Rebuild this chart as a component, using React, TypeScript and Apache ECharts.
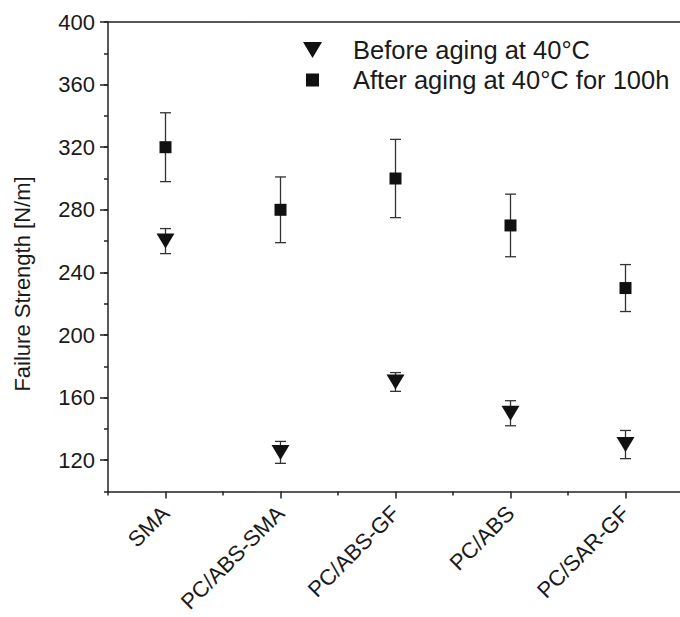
import React, { useEffect, useRef } from "react";
import * as echarts from "echarts";

const categories = ["SMA", "PC/ABS-SMA", "PC/ABS-GF", "PC/ABS", "PC/SAR-GF"];
const beforeValues = [260, 125, 170, 150, 130];
const beforeErrors = [8, 7, 6, 8, 9];
const afterValues = [320, 280, 300, 270, 230];
const afterErrors = [22, 21, 25, 20, 15];
const yLabelValues = [120, 160, 200, 240, 280, 320, 360, 400];
const beforeName = "Before aging at 40°C";
const afterName = "After aging at 40°C for 100h";

const FONT = "'Liberation Sans', Arial, Helvetica, sans-serif";
const INK = "#1a1a1a";

export default function App() {
  const ref = useRef<HTMLDivElement>(null);
  useEffect(() => {
    if (!ref.current) return;
    const chart = echarts.init(ref.current, null, { renderer: "svg" });

    const errData = (vals: number[], errs: number[]) =>
      vals.map((v, i) => [i, v - errs[i], v + errs[i]]);

    const renderErr = (params: any, api: any) => {
      const x = api.value(0);
      const lo = api.value(1);
      const hi = api.value(2);
      const p1 = api.coord([x, hi]);
      const p2 = api.coord([x, lo]);
      const w = 5.5;
      const style = { stroke: "#333", lineWidth: 1.3 };
      return {
        type: "group",
        children: [
          { type: "line", shape: { x1: p1[0], y1: p1[1], x2: p2[0], y2: p2[1] }, style },
          { type: "line", shape: { x1: p1[0] - w, y1: p1[1], x2: p1[0] + w, y2: p1[1] }, style },
          { type: "line", shape: { x1: p2[0] - w, y1: p2[1], x2: p2[0] + w, y2: p2[1] }, style },
        ],
      };
    };

    const triPath = "path://M0,0L18,0L9,15Z";

    chart.setOption({
      animation: false,
      backgroundColor: "#fff",
      textStyle: { fontFamily: FONT },
      grid: { left: 108, right: -3, top: 22, bottom: 125.5, containLabel: false, outerBoundsMode: "none" },
      legend: [
        {
          data: [{ name: beforeName, icon: triPath }],
          orient: "vertical",
          left: 303,
          top: 37,
          padding: 0,
          itemWidth: 19,
          itemHeight: 17,
          selectedMode: false,
          textStyle: { fontSize: 25.5, color: INK, fontFamily: FONT, lineHeight: 26, padding: [0, 0, 0, 26] },
        },
        {
          data: [{ name: afterName, icon: "rect" }],
          orient: "vertical",
          left: 306,
          top: 67,
          padding: 0,
          itemWidth: 13,
          itemHeight: 13,
          selectedMode: false,
          textStyle: { fontSize: 25.5, color: INK, fontFamily: FONT, lineHeight: 26, padding: [0, 0, 0, 29] },
        },
      ],
      xAxis: [
        {
          type: "category",
          data: categories,
          position: "bottom",
          boundaryGap: true,
          axisLine: { show: true, lineStyle: { color: "#222", width: 1.5 } },
          axisTick: { show: true, alignWithLabel: true, length: 7, lineStyle: { color: "#222", width: 1.5 } },
          axisLabel: { rotate: 45, margin: 18, fontSize: 22, color: INK, fontFamily: FONT, interval: 0 },
          splitLine: { show: false },
        },
        {
          type: "value",
          position: "bottom",
          min: 0,
          max: 5,
          interval: 1,
          axisLine: { show: false },
          axisTick: { show: true, length: 4, lineStyle: { color: "#222", width: 1.5 } },
          axisLabel: { show: false },
          splitLine: { show: false },
        },
        {
          type: "value",
          position: "top",
          min: 0,
          max: 1,
          axisLine: { show: true, onZero: false, lineStyle: { color: "#222", width: 1.5 } },
          axisTick: { show: false },
          axisLabel: { show: false },
          splitLine: { show: false },
        },
      ],
      yAxis: [
        {
          type: "value",
          position: "left",
          min: 100,
          max: 400,
          axisLine: { show: true, onZero: false, lineStyle: { color: "#222", width: 1.5 } },
          axisTick: {
            show: true,
            length: 8,
            customValues: yLabelValues,
            lineStyle: { color: "#222", width: 1.5 },
          },
          axisLabel: { customValues: yLabelValues, margin: 13, fontSize: 22, color: INK, fontFamily: FONT },
          splitLine: { show: false },
        },
        {
          type: "value",
          position: "left",
          min: 100,
          max: 400,
          interval: 20,
          axisLine: { show: false },
          axisTick: { show: true, length: 4, lineStyle: { color: "#222", width: 1.5 } },
          axisLabel: { show: false },
          splitLine: { show: false },
        },
      ],
      graphic: [
        {
          type: "text",
          x: 22,
          y: 284,
          rotation: Math.PI / 2,
          style: {
            text: "Failure Strength [N/m]",
            fontSize: 22,
            fontFamily: FONT,
            fill: INK,
            textAlign: "center",
            textVerticalAlign: "middle",
          },
        },
      ],
      series: [
        {
          name: "err-before",
          type: "custom",
          xAxisIndex: 0,
          yAxisIndex: 0,
          renderItem: renderErr,
          encode: { x: 0, y: [1, 2] },
          data: errData(beforeValues, beforeErrors),
          z: 2,
          silent: true,
        },
        {
          name: "err-after",
          type: "custom",
          xAxisIndex: 0,
          yAxisIndex: 0,
          renderItem: renderErr,
          encode: { x: 0, y: [1, 2] },
          data: errData(afterValues, afterErrors),
          z: 2,
          silent: true,
        },
        {
          name: beforeName,
          type: "scatter",
          xAxisIndex: 0,
          yAxisIndex: 0,
          symbol: triPath,
          symbolSize: [18, 15],
          itemStyle: { color: "#111", opacity: 1 },
          data: beforeValues,
          z: 4,
        },
        {
          name: afterName,
          type: "scatter",
          xAxisIndex: 0,
          yAxisIndex: 0,
          symbol: "rect",
          symbolSize: 12,
          itemStyle: { color: "#111", opacity: 1 },
          data: afterValues,
          z: 4,
        },
      ],
    });
    return () => chart.dispose();
  }, []);

  return (
    <div style={{ position: "fixed", left: 0, top: 0, width: 680, height: 617, overflow: "hidden", background: "#fff" }}>
      <div ref={ref} style={{ width: 680, height: 617 }} />
    </div>
  );
}
